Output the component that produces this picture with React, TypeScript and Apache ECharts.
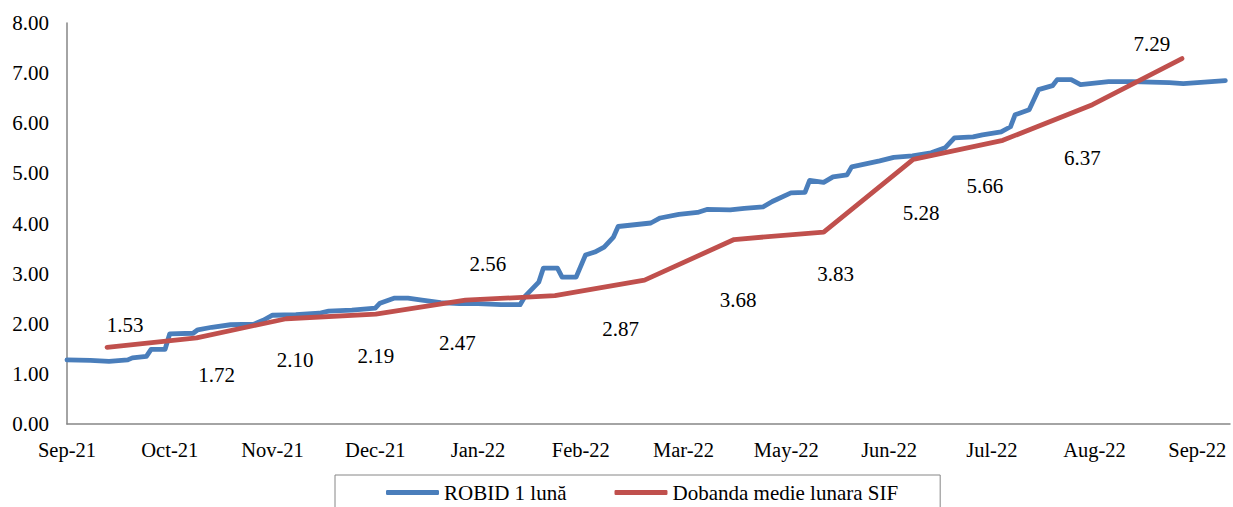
import React, { useEffect, useRef } from "react";
import * as echarts from "echarts";

// x-axis tick labels (every 22 business days)
const tickLabels = ["Sep-21", "Oct-21", "Nov-21", "Dec-21", "Jan-22", "Feb-22", "Mar-22", "May-22", "Jun-22", "Jul-22", "Aug-22", "Sep-22"];
const tickStep = 22;
const dayCount = 249;

// ROBID 1 lună: business-day index and value
const robidDay = [0, 5, 9, 13, 14, 17, 18, 21, 22, 27, 28, 31, 35, 40, 42, 44, 49, 54, 56, 61, 66, 67, 70, 73, 76, 80, 84, 88, 93, 97, 98, 101, 102, 105, 106, 109, 111, 113, 115, 117, 118, 123, 125, 127, 131, 135, 137, 142, 145, 149, 151, 155, 158, 159, 162, 164, 167, 168, 172, 174, 177, 181, 185, 188, 190, 194, 196, 200, 202, 203, 206, 207, 208, 211, 212, 215, 217, 221, 223, 228, 232, 236, 239, 242, 245, 248];
const robidValue = [1.28, 1.27, 1.25, 1.28, 1.32, 1.35, 1.49, 1.49, 1.80, 1.81, 1.88, 1.93, 1.98, 1.99, 2.07, 2.17, 2.18, 2.21, 2.25, 2.27, 2.31, 2.41, 2.51, 2.51, 2.47, 2.42, 2.40, 2.40, 2.38, 2.38, 2.54, 2.83, 3.11, 3.11, 2.93, 2.93, 3.37, 3.43, 3.53, 3.73, 3.94, 3.99, 4.01, 4.11, 4.18, 4.22, 4.28, 4.27, 4.30, 4.33, 4.44, 4.61, 4.62, 4.86, 4.82, 4.93, 4.97, 5.13, 5.21, 5.25, 5.32, 5.35, 5.41, 5.51, 5.71, 5.73, 5.77, 5.83, 5.93, 6.17, 6.27, 6.47, 6.67, 6.75, 6.87, 6.87, 6.77, 6.81, 6.83, 6.83, 6.82, 6.81, 6.79, 6.81, 6.83, 6.85];

// Dobanda medie lunara SIF: monthly values
const sifMonths = ["Sep-21", "Oct-21", "Nov-21", "Dec-21", "Jan-22", "Feb-22", "Mar-22", "Apr-22", "May-22", "Jun-22", "Jul-22", "Aug-22", "Sep-22"];
const sifValue = [1.53, 1.72, 2.10, 2.19, 2.47, 2.56, 2.87, 3.68, 3.83, 5.28, 5.66, 6.37, 7.29];

// label placement offsets (px) relative to each point
const sifLabelOffset = [[18, -22], [20, 37], [9, 41], [0, 42], [-8, 43], [-67, -32], [-24, 49], [4, 60], [12, 42], [8, 54], [-18, 46], [-10, 53], [-30, -15]];

const FONT = "'Times New Roman', 'Liberation Serif', serif";

export default function App() {
  const ref = useRef<HTMLDivElement>(null);
  useEffect(() => {
    if (!ref.current) return;
    const chart = echarts.init(ref.current, null, { renderer: "svg" });
    chart.setOption({
      animation: false,
      backgroundColor: "#ffffff",
      textStyle: { fontFamily: FONT },
      grid: { left: 67, right: 3, top: 23, bottom: 83, containLabel: false },
      legend: {
        left: 335,
        top: 475,
        padding: [7, 42, 20, 51],
        itemGap: 48,
        itemWidth: 53,
        itemHeight: 5,
        icon: "roundRect",
        borderColor: "#868686",
        borderWidth: 1,
        textStyle: { fontFamily: FONT, fontSize: 21, color: "#000" },
        data: ["ROBID 1 lună", "Dobanda medie lunara SIF"],
      },
      xAxis: [
        {
          type: "value",
          min: 0,
          max: dayCount,
          interval: tickStep,
          axisLine: { lineStyle: { color: "#868686", width: 1.5 } },
          axisTick: { show: false },
          splitLine: { show: false },
          axisLabel: {
            fontFamily: FONT,
            fontSize: 20.5,
            color: "#000",
            margin: 15,
            showMaxLabel: false,
            formatter: (v: number) => {
              const k = v / tickStep;
              return Number.isInteger(k) && tickLabels[k] ? tickLabels[k] : "";
            },
          },
        },
        {
          type: "value",
          min: -0.447,
          max: 12.536,
          show: false,
        },
      ],
      yAxis: {
        type: "value",
        min: 0,
        max: 8,
        interval: 1,
        axisLine: { show: true, lineStyle: { color: "#868686", width: 1.5 } },
        axisTick: { show: false },
        splitLine: { show: false },
        axisLabel: {
          fontFamily: FONT,
          fontSize: 21,
          color: "#000",
          margin: 18,
          formatter: (v: number) => v.toFixed(2),
        },
      },
      series: [
        {
          name: "ROBID 1 lună",
          type: "line",
          xAxisIndex: 0,
          data: robidDay.map((d, i) => [d, robidValue[i]]),
          showSymbol: false,
          symbol: "none",
          color: "#4A7EBB",
          lineStyle: { color: "#4A7EBB", width: 4.8, cap: "round", join: "round" },
          z: 2,
        },
        {
          name: "Dobanda medie lunara SIF",
          type: "line",
          xAxisIndex: 1,
          data: sifValue.map((v, i) => ({ value: [i, v], name: sifMonths[i] })),
          symbol: "circle",
          symbolSize: 1,
          showSymbol: true,
          color: "#C0504D",
          itemStyle: { color: "#C0504D" },
          lineStyle: { color: "#C0504D", width: 4.8, cap: "round", join: "round" },
          label: {
            show: true,
            position: "inside",
            fontFamily: FONT,
            fontSize: 21,
            color: "#000",
            formatter: (p: any) => p.value[1].toFixed(2),
          },
          labelLayout: (p: any) => ({
            dx: sifLabelOffset[p.dataIndex][0],
            dy: sifLabelOffset[p.dataIndex][1],
            hideOverlap: false,
          }),
          z: 3,
        },
      ],
    });
    return () => chart.dispose();
  }, []);
  return (
    <div
      ref={ref}
      style={{ position: "fixed", left: 0, top: 0, width: 1233, height: 507, background: "#fff" }}
    />
  );
}
